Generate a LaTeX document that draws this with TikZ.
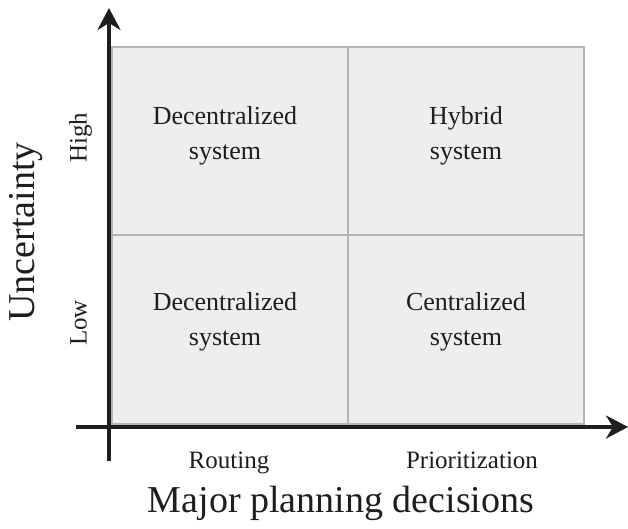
\documentclass[tikz,border=0pt]{standalone}
\usepackage{fontspec}
\setmainfont{Liberation Serif}
\usetikzlibrary{arrows.meta}
\definecolor{cellfill}{HTML}{EEEEEE}
\definecolor{cellline}{HTML}{B4B4B4}
\definecolor{ink}{HTML}{1E1E1E}
\tikzset{
  cell/.style={draw=cellline, fill=cellfill, line width=1.3pt, minimum width=236pt, inner sep=0pt},
  celltext/.style={align=center, text=ink, font=\fontsize{26}{35}\selectfont},
  ticklabel/.style={text=ink, font=\fontsize{25}{30}\selectfont, anchor=base},
  ticklabelv/.style={text=ink, font=\fontsize{25}{30}\selectfont, text height=17pt, text depth=6pt},
  axislabel/.style={text=ink, font=\fontsize{38}{44}\selectfont},
  axisline/.style={draw=ink, line width=4pt, -{Stealth[length=22pt,width=23pt,inset=7pt]}}
}
\begin{document}
\begin{tikzpicture}[x=1pt,y=-1pt]
\useasboundingbox (0,0) rectangle (628,529);
% cells
\node[cell, minimum height=188pt] (c11) at (230,141) {};
\node[cell, minimum height=188pt] (c12) at (466,141) {};
\node[cell, minimum height=189pt] (c21) at (230,329.5) {};
\node[cell, minimum height=189pt] (c22) at (466,329.5) {};
% cell texts
\node[celltext] (t11) at (225,136) {Decentralized\\system};
\node[celltext] (t12) at (466,136) {Hybrid\\system};
\node[celltext] (t21) at (225,322) {Decentralized\\system};
\node[celltext] (t22) at (466,322) {Centralized\\system};
% axes
\coordinate (yb) at (109,461);
\coordinate (yt) at (109,8);
\coordinate (xl) at (76,427);
\coordinate (xr) at (628,427);
\draw[axisline] (yb) -- (yt);
\draw[axisline] (xl) -- (xr);
% tick labels
\node[ticklabelv, rotate=90] (high) at (81,138) {High};
\node[ticklabelv, rotate=90] (low) at (81,323) {Low};
\node[ticklabel] (routing) at (229,468) {Routing};
\node[ticklabel] (prio) at (472,468) {Prioritization};
% axis labels
\node[axislabel, rotate=90] (unc) at (26,232) {Uncertainty};
\node[axislabel] (major) at (341,503) {Major planning decisions};
\end{tikzpicture}
\end{document}
